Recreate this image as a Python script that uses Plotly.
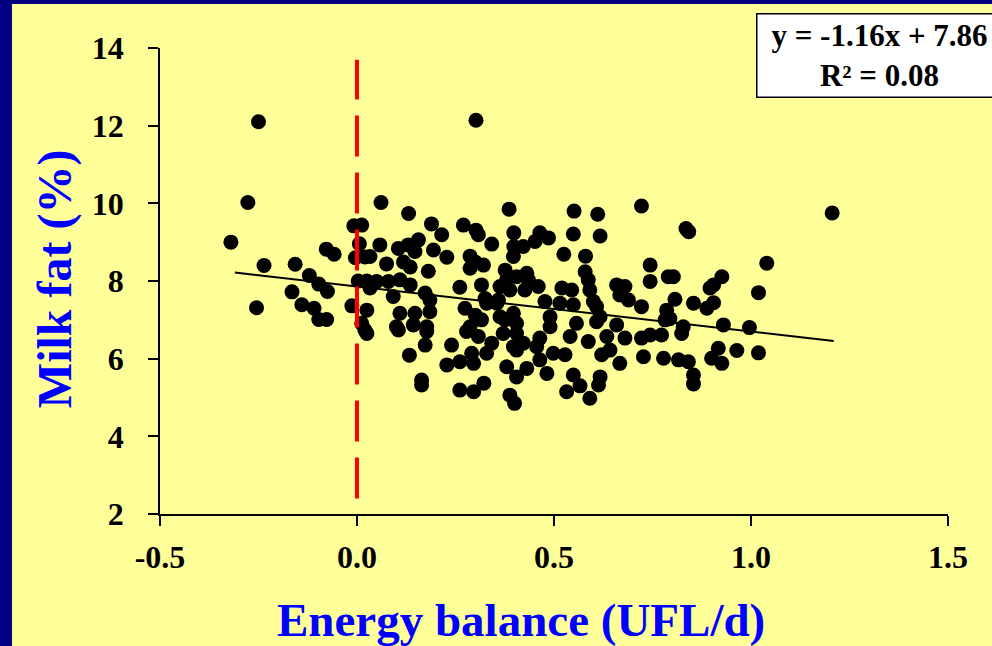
import plotly.graph_objects as go

# ---- data ----
energy_balance = [
    -0.32, -0.277, -0.25, -0.255, -0.236, -0.157, -0.121, -0.097, -0.075, -0.165,
    -0.14, -0.109, -0.097, -0.077, -0.078, -0.058, -0.013, -0.008, 0.012, 0.006,
    -0.004, 0.020, 0.003, 0.025, 0.025, 0.012, 0.020,
    0.061, 0.131, 0.386, 0.189, 0.215, 0.270, 0.302, 0.308, 0.342, 0.398,
    0.398, 0.397, 0.058, 0.033, 0.105, 0.130, 0.156, 0.147, 0.194, 0.228,
    0.075, 0.118, 0.135, 0.181, 0.287, 0.300, 0.321, 0.287, 0.376, 0.380,
    0.050, 0.080, 0.109, 0.135, 0.033, 0.092, 0.173, 0.261, 0.316, 0.363,
    0.185, 0.325, 0.359, 0.109, 0.147, 0.185, 0.274, 0.300, 0.316, 0.363,
    0.100, 0.143, 0.177, 0.287,
    0.025, 0.105, 0.177, 0.173, 0.133, 0.164, 0.164, 0.240, 0.228, 0.261,
    0.291, 0.296, 0.261, 0.296, 0.322, 0.278, 0.308, 0.329, 0.342, 0.371,
    0.376, 0.397, 0.397, 0.380, 0.405, 0.388, 0.400, 0.329, 0.355,
    0.722, 0.551, 0.611, 0.549, 0.617, 0.464, 0.486, 0.452, 0.422, 0.525,
    0.580, 0.744, 0.744, 0.790, 0.579, 0.587, 0.431, 0.435, 0.405, 0.460,
    0.426, 0.388, 0.520, 0.545, 0.591, 0.659, 0.680, 0.600, 0.667, 0.689,
    0.722, 0.786, 0.477, 0.515, 0.549, 0.608, 0.490, 0.490, 0.557, 0.617,
    0.659, 0.405, 0.782,
    0.608, 0.634, 0.680, 0.722, 0.744, 0.773, 0.727, 0.778, 0.405, 0.405,
    0.422, 0.464, 0.456, 0.464, 0.498, 0.528, 0.541, 0.587, 0.621, 0.642,
    0.667, 0.431, 0.482, 0.549, 0.532, 0.566, 0.617, 0.613, 0.591,
    0.835, 0.842, 1.040, 0.803, 0.926, 0.905, 0.896, 1.019, 0.807, 0.854,
    0.888, 0.905, 0.794, 0.828, 0.930, 0.996, 0.824, 0.816, 0.841, 0.854,
    0.854, 0.917, 0.900, 0.926, 0.964, 1.019, 1.206, 0.302,
]
milk_fat = [
    9.00, 10.02, 12.10, 7.31, 8.40, 8.43, 8.14, 7.92, 7.73, 7.72,
    7.39, 7.30, 7.01, 7.01, 8.82, 8.69, 7.36, 9.42, 9.44, 8.96,
    8.60, 8.62, 8.00, 8.00, 7.25, 6.91, 6.74,
    10.02, 9.74, 9.85, 9.47, 9.19, 9.44, 9.31, 9.19, 8.95, 9.24,
    8.89, 8.63, 8.93, 8.63, 8.84, 8.93, 9.06, 8.76, 8.80, 8.61,
    8.44, 8.49, 8.36, 8.25, 8.64, 8.49, 8.41, 8.33, 8.28, 8.03,
    7.99, 7.99, 8.03, 7.90, 7.82, 7.60, 7.69, 7.84, 7.90, 7.86,
    7.51, 7.55, 7.51, 7.17, 7.17, 7.21, 7.30, 7.12, 7.00, 7.08,
    6.82, 6.87, 6.82, 6.82,
    6.65, 6.74, 6.70, 6.35, 6.09, 5.32, 5.45, 6.35, 5.84, 5.92,
    6.14, 5.88, 5.19, 5.15, 5.37, 6.70, 6.57, 6.14, 6.40, 6.65,
    7.00, 7.17, 6.31, 5.79, 5.53, 5.06, 4.85, 7.43, 7.43,
    9.93, 9.80, 9.72, 9.21, 9.16, 9.24, 9.11, 9.02, 8.89, 8.69,
    8.64, 8.41, 7.99, 8.11, 8.24, 8.03, 8.20, 8.03, 8.11, 7.86,
    7.77, 7.77, 7.82, 7.77, 7.77, 7.90, 7.86, 7.47, 7.64, 7.51,
    7.34, 7.25, 7.47, 7.43, 7.39, 7.34, 7.08, 6.82, 6.91, 7.08,
    6.87, 6.91, 7.00,
    6.95, 6.57, 6.53, 6.53, 6.61, 6.61, 6.05, 6.01, 6.65, 6.22,
    6.40, 6.53, 6.31, 5.97, 6.14, 6.10, 6.57, 6.44, 6.10, 6.22,
    5.88, 5.75, 5.62, 5.58, 5.15, 5.30, 5.53, 5.32, 4.98,
    9.35, 9.27, 8.46, 8.11, 8.11, 7.90, 7.82, 7.70, 7.53, 7.43,
    7.30, 7.44, 7.03, 6.82, 6.87, 6.80, 6.65, 5.97, 5.92, 5.58,
    5.35, 6.27, 6.01, 5.88, 6.21, 6.15, 9.75, 12.14,
]

x_ticks = [-0.5, 0.0, 0.5, 1.0, 1.5]
x_tick_labels = ["-0.5", "0.0", "0.5", "1.0", "1.5"]
y_ticks = [2, 4, 6, 8, 10, 12, 14]

slope = -1.16
intercept = 7.86
r_squared = 0.08
trend_x = [-0.31, 1.21]
trend_y = [slope * v + intercept for v in trend_x]

ref_line_x = [0.0, 0.0]
ref_line_y = [2.4, 13.7]

SERIF = "Liberation Serif, Times New Roman, serif"
BG = "#FFFF99"
NAVY = "#000080"

fig = go.Figure()
fig.add_trace(go.Scatter(
    x=energy_balance, y=milk_fat, mode="markers",
    marker=dict(color="black", size=15, line=dict(width=0)),
    showlegend=False, hoverinfo="x+y"))
fig.add_trace(go.Scatter(
    x=trend_x, y=trend_y, mode="lines",
    line=dict(color="black", width=2), showlegend=False))
fig.add_trace(go.Scatter(
    x=ref_line_x, y=ref_line_y, mode="lines",
    line=dict(color="#FF0000", width=4, dash="41px,16px"), showlegend=False))

axis_common = dict(
    showline=True, linecolor="black", linewidth=1.5,
    ticks="outside", ticklen=10, tickwidth=1.5, tickcolor="black",
    showgrid=False, zeroline=False,
    tickfont=dict(family=SERIF, size=32, color="black", weight="bold"),
)

fig.update_layout(
    width=992, height=646, autosize=False,
    margin=dict(l=160, r=44, t=48, b=132),
    paper_bgcolor=BG, plot_bgcolor=BG,
    xaxis=dict(range=[-0.5, 1.5], tickvals=x_ticks, ticktext=x_tick_labels,
               ticklabelstandoff=4, **axis_common),
    yaxis=dict(range=[2, 14], tickvals=y_ticks, ticklabelstandoff=18,
               **axis_common),
    shapes=[
        dict(type="rect", xref="paper", yref="paper", x0=-0.35, x1=-0.1878,
             y0=-0.5, y1=1.3, fillcolor=NAVY, line=dict(width=0), layer="above"),
        dict(type="rect", xref="paper", yref="paper", x0=-0.35, x1=1.3,
             y0=1.0944, y1=1.3, fillcolor=NAVY, line=dict(width=0), layer="above"),
    ],
    annotations=[
        dict(text="Energy balance (UFL/d)", xref="paper", yref="paper",
             x=0.458, y=-0.2275, xanchor="center", yanchor="middle",
             showarrow=False,
             font=dict(family=SERIF, size=47, color="#0000FF", weight="bold")),
        dict(text="Milk fat (%)", xref="paper", yref="paper",
             x=-0.1332, y=0.504, xanchor="center", yanchor="middle",
             textangle=-90, showarrow=False,
             font=dict(family=SERIF, size=48, color="#0000FF", weight="bold")),
        dict(text=f"y = {slope:.2f}x + {intercept:.2f}<br>R² = {r_squared:.2f}",
             xref="paper", yref="paper", x=0.7563, y=1.075,
             xanchor="left", yanchor="top", showarrow=False, align="center",
             valign="middle",
             bgcolor="white", bordercolor="black", borderwidth=1.5, borderpad=2,
             width=240, height=78,
             font=dict(family=SERIF, size=31, color="black", weight="bold")),
    ],
)

fig.write_html(
    "out.html",
    config={"displayModeBar": False},
    post_script="document.body.style.margin='0';document.body.style.background='#FFFF99';",
)
